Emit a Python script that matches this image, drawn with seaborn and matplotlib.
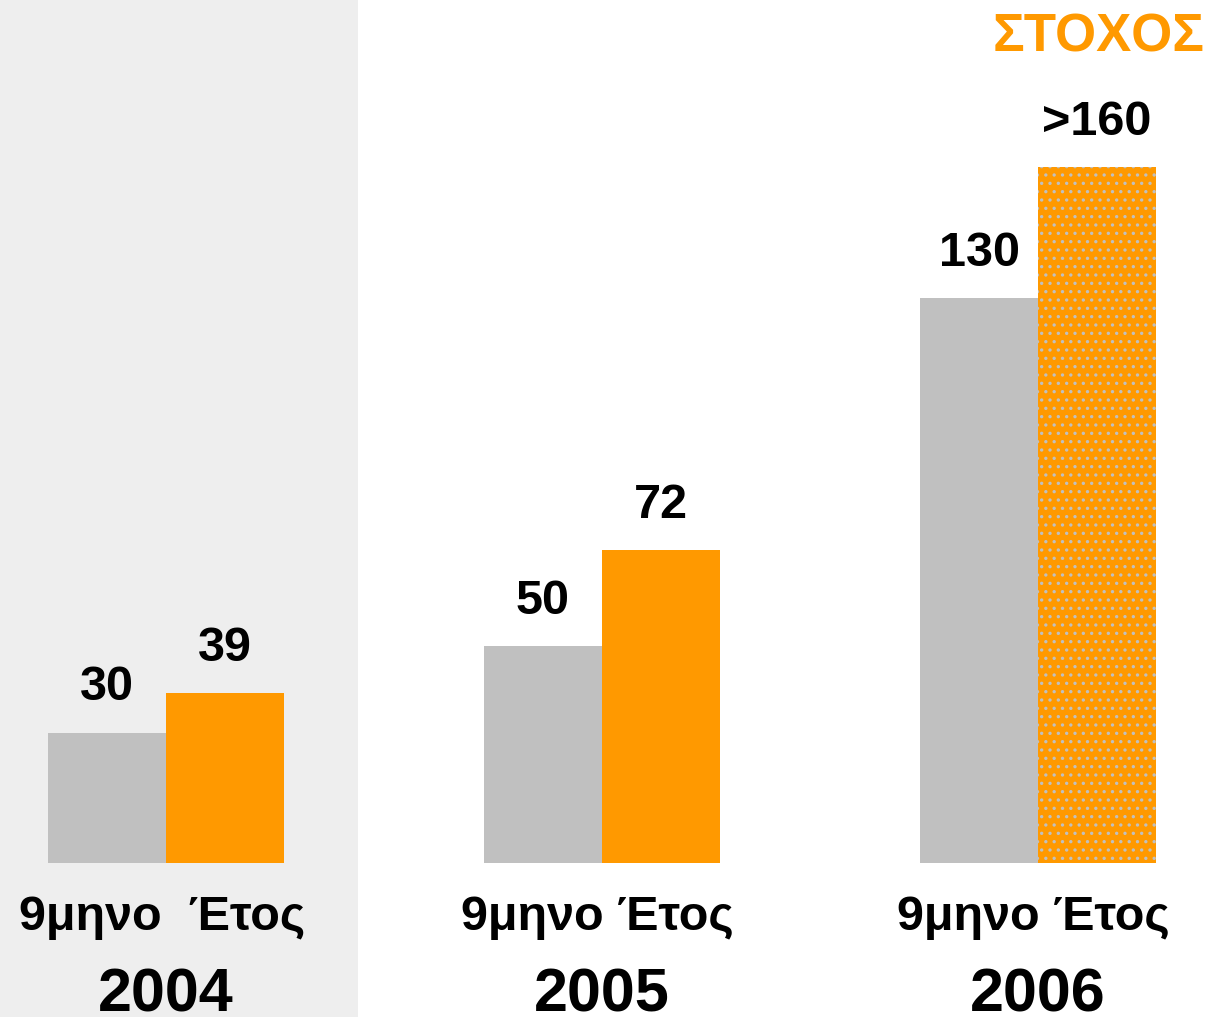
import matplotlib
matplotlib.use("Agg")
import matplotlib.pyplot as plt
import pandas as pd
import seaborn as sns

YEARS = ["2004", "2005", "2006"]
NINE_MONTH = [30, 50, 130]
FULL_YEAR = [39, 72, 160]
NINE_MONTH_LABELS = ["30", "50", "130"]
FULL_YEAR_LABELS = ["39", "72", ">160"]
PERIOD_LABELS = ["9μηνο  Έτος", "9μηνο Έτος", "9μηνο Έτος"]
TARGET_TEXT = "ΣΤΟΧΟΣ"

GREY = "#c0c0c0"
ORANGE = "#ff9900"
PANEL = "#eeeeee"

sns.set_theme(style="white")
plt.rcParams["font.family"] = ["Liberation Sans", "DejaVu Sans"]
plt.rcParams["hatch.linewidth"] = 1.2

df = pd.DataFrame({
    "year": YEARS * 2,
    "value": NINE_MONTH + FULL_YEAR,
    "period": ["9m"] * len(YEARS) + ["year"] * len(YEARS),
})

W, H = 1210, 1017
fig = plt.figure(figsize=(W / 100, H / 100), dpi=100)
fig.patch.set_facecolor("white")

# grey panel behind the 2004 group
fig.patches.append(plt.Rectangle((0, 0), 358 / W, 1, transform=fig.transFigure,
                                 facecolor=PANEL, edgecolor="none", zorder=-1))

ax = fig.add_axes([0, 0, 1, 1])
ax.set_facecolor("none")

sns.barplot(
    data=df, x="year", y="value", hue="period",
    palette={"9m": GREY, "year": ORANGE},
    width=0.541, saturation=1, legend=False, linewidth=0, ax=ax,
)

# pixel-based scale: group spacing 436 px, first group centre at 166 px
ax.set_xlim(-166 / 436, (W - 166) / 436)
px_per_unit = 4.35
ax.set_ylim(-(H - 863) / px_per_unit, 863 / px_per_unit)
ax.axis("off")

# target bar (2006 full year) is textured
target = ax.containers[1][2]
target.set_hatch("..")
target.set_edgecolor(GREY)
target.set_linewidth(0)

for container, labels in zip(ax.containers, [NINE_MONTH_LABELS, FULL_YEAR_LABELS]):
    for bar, label in zip(container, labels):
        ax.annotate(
            label,
            xy=(bar.get_x() + bar.get_width() / 2, bar.get_height()),
            xytext=(0, 32), textcoords="offset pixels",
            ha="center", va="baseline",
            fontsize=35, fontweight="bold", color="black",
        )

for i, (period, year) in enumerate(zip(PERIOD_LABELS, YEARS)):
    ax.text(i - 0.01, 1 - 930 / H, period, transform=ax.get_xaxis_transform(),
            ha="center", va="baseline", fontsize=35, fontweight="bold",
            color="black")
    ax.text(i, 1 - 1011 / H, year, transform=ax.get_xaxis_transform(),
            ha="center", va="baseline", fontsize=44, fontweight="bold",
            color="black")

fig.text(1205 / W, 1 - 52 / H, TARGET_TEXT, ha="right", va="baseline",
         fontsize=38, fontweight="bold", color=ORANGE)

fig.savefig("out.png", dpi=100)
